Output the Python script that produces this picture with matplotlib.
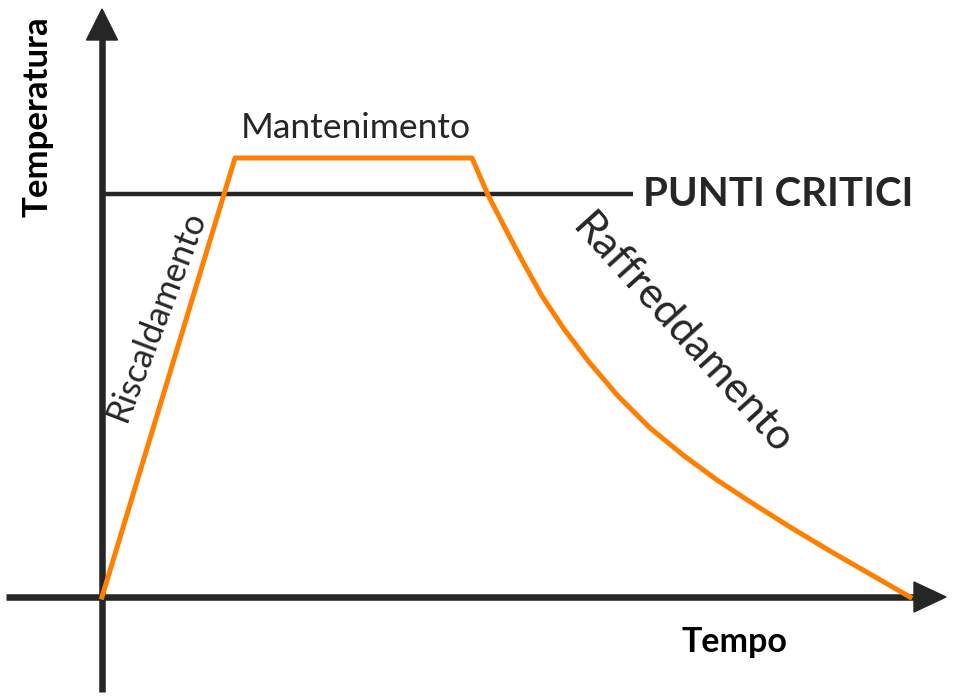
import numpy as np
import matplotlib.pyplot as plt
from matplotlib.patches import Polygon

# heat treatment cycle, units = time / temperature (origin at the axes cross)
tempo = [0, 133, 370, 386, 403, 421, 440, 462, 487, 516, 548, 581,
         615, 650, 688, 728, 768, 808]
temperatura = [0, 439, 439, 402, 369, 335, 301, 268, 235, 201, 169, 142,
               117, 94, 70, 46, 23, 0]

punti_critici = 403
fine_critici = 531

scuro = '#262626'
arancio = '#ff8000'

fig = plt.figure(figsize=(9.58, 6.97), dpi=100)
ax = fig.add_axes([0, 0, 1, 1])
ax.set_xlim(-102, 856)
ax.set_ylim(-100, 597)
ax.axis('off')

# axes with arrows
ax.plot([0, 0], [-95, 560], color=scuro, lw=4.7, solid_capstyle='butt', zorder=3)
ax.plot([-96, 815], [0, 0], color=scuro, lw=4.7, solid_capstyle='butt', zorder=3)
ax.add_patch(Polygon([[-15.5, 557], [15.5, 557], [0, 588]], closed=True,
                     color=scuro, zorder=3))
ax.add_patch(Polygon([[812, 15], [812, -15], [844, 0]], closed=True,
                     color=scuro, zorder=3))

# critical points line
ax.plot([0, fine_critici], [punti_critici, punti_critici], color=scuro, lw=3.2,
        solid_capstyle='butt', zorder=2)

ax.plot(tempo, temperatura, color=arancio, lw=3.6, solid_joinstyle='round', zorder=4)

font = 'Lato'
ax.text(541, punti_critici, 'PUNTI CRITICI', fontsize=29, fontweight='bold',
        family=font, color=scuro, va='center', ha='left')
ax.text(254, 469, 'Mantenimento', fontsize=25.5, family=font, color=scuro,
        ha='center', va='center')
ax.text(54, 282, 'Riscaldamento', fontsize=25, family=font, color=scuro,
        ha='center', va='center', rotation=69, rotation_mode='anchor')
ax.text(580, 263, 'Raffreddamento', fontsize=31, family=font, color=scuro,
        ha='center', va='center', rotation=-48, rotation_mode='anchor')
ax.text(632, -45, 'Tempo', fontsize=24.5, fontweight='bold', family=font,
        color='black', ha='center', va='center')
ax.text(-64, 480, 'Temperatura', fontsize=25, fontweight='bold', family=font,
        color='black', ha='center', va='center', rotation=90)

plt.savefig('out.png', dpi=100)
